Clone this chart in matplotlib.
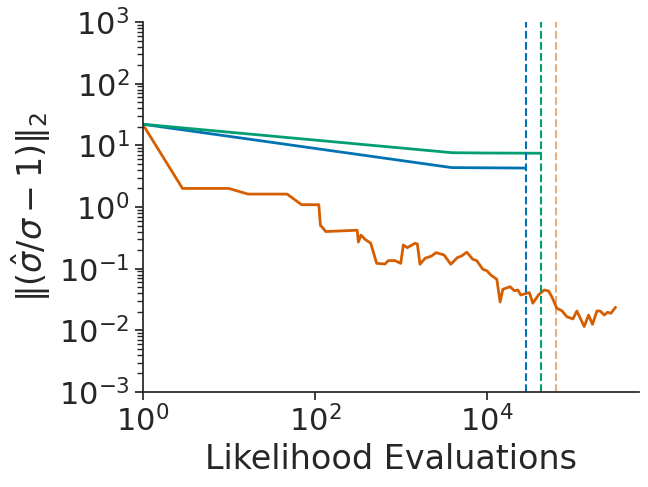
import numpy as np
import matplotlib
matplotlib.use("Agg")
import matplotlib.pyplot as plt
import matplotlib.ticker as mticker
import seaborn as sns

# Error of the scale estimate vs. number of likelihood evaluations
blue_x = [1, 3900, 10000, 28000]
blue_y = [22, 4.35, 4.32, 4.28]

green_x = [1, 3900, 10000, 42000]
green_y = [22, 7.6, 7.5, 7.45]

orange_x = [1, 2.9, 10, 16.7, 47.6, 70, 111, 116, 120, 134, 310, 320, 343, 381,
            444, 522, 652, 712, 851, 993, 1064, 1183, 1455, 1549, 1663, 1901,
            2275, 2553, 3162, 3785, 4518, 5078, 5806, 6822, 7586, 8913, 9931,
            11040, 12970, 14160, 15230, 18500, 20610, 22750, 24660, 28970,
            31040, 33960, 39540, 46030, 51640, 56490, 64570, 73940, 84540,
            99310, 110400, 134300, 150700, 167600, 188700, 206100, 229300,
            250500, 274300, 310500]
orange_y = [22, 2.0, 2.0, 1.62, 1.62, 1.09, 1.09, 0.5, 0.48, 0.40, 0.42, 0.27,
            0.35, 0.30, 0.26, 0.122, 0.119, 0.135, 0.135, 0.122, 0.242, 0.219,
            0.258, 0.251, 0.118, 0.147, 0.161, 0.182, 0.167, 0.118, 0.151,
            0.161, 0.185, 0.142, 0.135, 0.0977, 0.0927, 0.079, 0.0673, 0.0288,
            0.0463, 0.051, 0.044, 0.0451, 0.0374, 0.0399, 0.0408, 0.0275,
            0.0374, 0.0451, 0.0435, 0.0351, 0.0228, 0.0208, 0.0166, 0.0153,
            0.0206, 0.0115, 0.0177, 0.0125, 0.0206, 0.0206, 0.0177, 0.0196,
            0.0189, 0.0237]

# total evaluations budget for each run (dashed markers)
vlines = [28000, 42000, 63000]

sns.set_theme(style="ticks", font_scale=2)
pal = sns.color_palette("colorblind")
c_blue, c_green, c_orange = pal[0], pal[2], pal[3]

fig = plt.figure(figsize=(6.48, 4.87), dpi=100)
ax = fig.add_axes([142.7 / 648, 1 - 392 / 487, (639.3 - 142.7) / 648, 370 / 487])

ax.plot(orange_x, orange_y, color=c_orange, lw=2)
ax.plot(blue_x, blue_y, color=c_blue, lw=2)
ax.plot(green_x, green_y, color=c_green, lw=2)

ax.axvline(vlines[0], color=c_blue, ls="--", lw=1.5)
ax.axvline(vlines[1], color=c_green, ls="--", lw=1.5)
ax.axvline(vlines[2], color=c_orange, ls="--", lw=1.5, alpha=0.5)

ax.set_xscale("log")
ax.set_yscale("log")
ax.set_xlim(1, 5.86e5)
ax.set_ylim(1e-3, 1e3)
ax.xaxis.set_major_locator(mticker.FixedLocator([1, 1e2, 1e4]))
ax.xaxis.set_minor_locator(mticker.NullLocator())
ax.yaxis.set_major_locator(mticker.LogLocator(base=10, numticks=10))
ax.yaxis.set_minor_locator(mticker.LogLocator(base=10, subs=np.arange(2, 10), numticks=20))

ax.set_xlabel("Likelihood Evaluations")
ax.set_ylabel(r"$\|(\hat{\sigma}/\sigma - 1)\|_2$")
sns.despine(ax=ax)

fig.savefig("out.png", dpi=100)
